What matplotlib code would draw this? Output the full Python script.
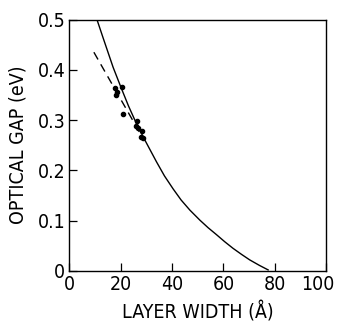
import matplotlib.pyplot as plt
import matplotlib.transforms as mtransforms
import numpy as np

plt.rcParams['font.family'] = ['DejaVu Sans']
plt.rcParams['font.stretch'] = 'condensed'
plt.rcParams['font.size'] = 13

# measured points
width_pts = [17.7, 18.4, 18.0, 20.3, 20.7, 26.4, 25.9, 26.5, 28.3, 27.7, 28.7]
gap_pts = [0.363, 0.356, 0.350, 0.366, 0.313, 0.299, 0.288, 0.284, 0.279, 0.267, 0.264]

# solid theory curve
curve_w = [10.7, 13.0, 15.8, 17.0, 20.3, 23.0, 26.0, 29.4, 33.9, 37.0, 40.4, 43.5,
           46.9, 50.8, 54.0, 57.3, 60.5, 63.7, 67.0, 70.2, 74.0, 77.4]
curve_e = [0.500, 0.465, 0.423, 0.405, 0.362, 0.328, 0.294, 0.260, 0.217, 0.189, 0.163, 0.141,
           0.121, 0.101, 0.086, 0.072, 0.058, 0.045, 0.033, 0.022, 0.011, 0.002]

# dashed linear fit
fit_w = [9.5, 28.5]
fit_e = [0.435, 0.265]

fig = plt.figure(figsize=(3.39, 3.26), dpi=100)
ax = fig.add_axes([0.205, 0.169, 0.757, 0.771])

ax.plot(curve_w, curve_e, color='black', lw=1.0)
ax.plot(fit_w, fit_e, color='black', lw=1.0, ls=(0, (6, 4)))
ax.plot(width_pts, gap_pts, 'o', color='black', ms=3.0)

ax.set_xlim(0, 100)
ax.set_ylim(0, 0.5)
ax.set_xticks([0, 20, 40, 60, 80, 100])
ax.set_yticks([0, 0.1, 0.2, 0.3, 0.4, 0.5])
ax.set_yticklabels(['0', '0.1', '0.2', '0.3', '0.4', '0.5'])
ax.tick_params(direction='in', length=6, width=0.9, labelsize=14, pad=3)
for s in ax.spines.values():
    s.set_linewidth(1.0)

# keep "100" inside the picture, like the original
last = ax.get_xticklabels()[-1]
last.set_transform(last.get_transform() +
                   mtransforms.ScaledTranslation(-6 / 72, 0, fig.dpi_scale_trans))

ax.set_xlabel('LAYER WIDTH (Å)', fontsize=14, labelpad=5)
ax.set_ylabel('OPTICAL GAP (eV)', fontsize=14, labelpad=7)

fig.savefig('out.png', dpi=100, facecolor='white')
